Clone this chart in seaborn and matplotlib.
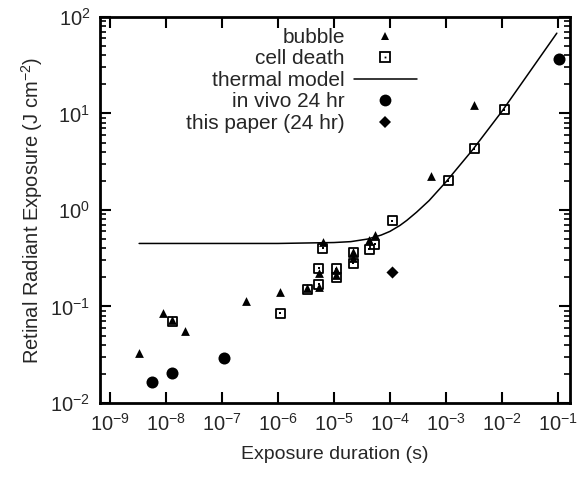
import matplotlib
matplotlib.use("Agg")
import matplotlib.pyplot as plt
import seaborn as sns
from matplotlib.lines import Line2D
from matplotlib.legend_handler import HandlerTuple

# values (seconds, J cm^-2)
bubble_t = [3.3e-9, 8.9e-9, 1.3e-8, 2.2e-8, 2.7e-7, 1.1e-6, 3.3e-6, 5.4e-6, 5.4e-6,
            6.3e-6, 1.1e-5, 1.1e-5, 2.2e-5, 2.2e-5, 4.3e-5, 5.4e-5, 5.4e-4, 3.2e-3]
bubble_h = [0.033, 0.085, 0.072, 0.056, 0.114, 0.141, 0.156, 0.16, 0.22,
            0.47, 0.21, 0.24, 0.316, 0.37, 0.49, 0.55, 2.25, 12.2]

cell_t = [1.3e-8, 1.1e-6, 3.3e-6, 5.4e-6, 5.4e-6, 6.3e-6, 1.1e-5, 1.1e-5,
          2.2e-5, 2.2e-5, 4.3e-5, 5.4e-5, 1.1e-4, 1.1e-3, 3.2e-3, 1.1e-2]
cell_h = [0.070, 0.085, 0.15, 0.17, 0.25, 0.40, 0.20, 0.245,
          0.28, 0.36, 0.39, 0.44, 0.77, 2.0, 4.3, 10.9]

model_t = [3.3e-9, 1e-6, 1e-5, 2e-5, 4e-5, 7e-5, 1e-4, 1.5e-4, 2e-4, 3e-4, 5e-4,
           1e-3, 3e-3, 1e-2, 3e-2, 9.6e-2]
model_h = [0.45, 0.45, 0.46, 0.47, 0.50, 0.55, 0.60, 0.69, 0.78, 0.95, 1.25,
           1.95, 4.2, 10.5, 26, 68]

vivo_t = [5.6e-9, 1.3e-8, 1.1e-7, 0.105]
vivo_h = [0.0166, 0.0204, 0.0295, 36.7]

paper_t = [1.1e-4]
paper_h = [0.23]

sns.set_theme(style="ticks")
plt.rcParams["font.family"] = ["Liberation Sans", "DejaVu Sans"]
plt.rcParams["mathtext.fontset"] = "custom"
plt.rcParams["mathtext.rm"] = "Liberation Sans"
plt.rcParams["mathtext.it"] = "Liberation Sans:italic"

fig = plt.figure(figsize=(5.85, 4.79), dpi=100)
ax = fig.add_axes([0.171, 0.1587, 0.803, 0.8058])

sns.lineplot(x=model_t, y=model_h, ax=ax, color="black", lw=1.1, sort=False)
sns.scatterplot(x=cell_t, y=cell_h, ax=ax, marker="s", s=42, facecolor="none",
                edgecolor="black", linewidth=1.3, zorder=3)
sns.scatterplot(x=cell_t, y=cell_h, ax=ax, marker="s", s=2, color="black",
                linewidth=0, zorder=3)
sns.scatterplot(x=bubble_t, y=bubble_h, ax=ax, marker="^", s=40, color="black",
                linewidth=0, zorder=4)
sns.scatterplot(x=vivo_t, y=vivo_h, ax=ax, marker="o", s=75, color="black",
                linewidth=0, zorder=4)
sns.scatterplot(x=paper_t, y=paper_h, ax=ax, marker="D", s=38, color="black",
                linewidth=0, zorder=4)

ax.set_xscale("log")
ax.set_yscale("log")
ax.set_xlim(10 ** -9.18, 10 ** -0.786)
ax.set_ylim(1e-2, 1e2)
ax.set_xticks([10.0 ** k for k in range(-9, 0)])
ax.set_yticks([10.0 ** k for k in range(-2, 3)])

ax.set_xlabel("Exposure duration (s)", fontsize=14, labelpad=8)
ax.set_ylabel("Retinal Radiant Exposure (J cm$^{-2}$)", fontsize=14.5, labelpad=4)

for s in ax.spines.values():
    s.set_linewidth(2.0)
    s.set_color("black")
ax.tick_params(which="both", direction="in", top=True, right=True, color="black")
ax.tick_params(which="major", length=8, width=1.5, labelsize=14.5, pad=7)
ax.tick_params(which="minor", length=4, width=1.2)

h_bubble = Line2D([], [], ls="none", marker="^", ms=6, color="black", mew=0)
h_cell = (Line2D([], [], ls="none", marker="s", ms=6.5, mfc="none", mec="black", mew=1.3),
          Line2D([], [], ls="none", marker="s", ms=1.3, color="black", mew=0))
h_model = Line2D([], [], color="black", lw=1.1)
h_vivo = Line2D([], [], ls="none", marker="o", ms=8.5, color="black", mew=0)
h_paper = Line2D([], [], ls="none", marker="D", ms=6, color="black", mew=0)

leg = ax.legend([h_bubble, h_cell, h_model, h_vivo, h_paper],
                ["bubble", "cell death", "thermal model", "in vivo 24 hr", "this paper (24 hr)"],
                handler_map={tuple: HandlerTuple(ndivide=1, pad=0)},
                loc="upper right", bbox_to_anchor=(0.674, 0.972), frameon=False,
                markerfirst=False, fontsize=15, handlelength=3.0, handletextpad=0.45,
                labelspacing=0.12, borderpad=0, borderaxespad=0)
leg._legend_handle_box._children[0].align = "right"

fig.savefig("out.png", dpi=100)
